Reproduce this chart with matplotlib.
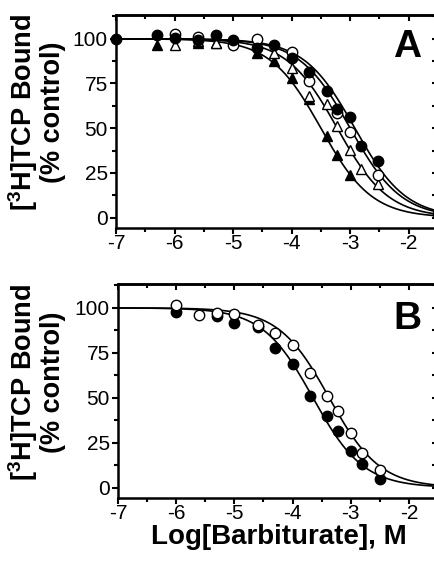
import numpy as np
import matplotlib
matplotlib.use('Agg')
from matplotlib import pyplot as plt
from matplotlib.ticker import MultipleLocator

plt.rcParams['font.family'] = ['Liberation Sans', 'DejaVu Sans']
plt.rcParams['mathtext.fontset'] = 'custom'
plt.rcParams['mathtext.bf'] = 'Liberation Sans:bold'
plt.rcParams['mathtext.rm'] = 'Liberation Sans:bold'

# panel A data (log M, % control)
a_fc_x = [-7.0, -6.3, -6.0, -5.6, -5.3, -5.0, -4.6, -4.3, -4.0, -3.7, -3.4, -3.22, -3.0, -2.82, -2.52, -1.5]
a_fc_y = [100, 102, 100.5, 99.5, 102, 99.3, 95, 96.3, 89.4, 81.4, 70.8, 60.5, 56.4, 40, 31.8, 1.9]
a_oc_x = [-6.0, -5.6, -5.0, -4.6, -4.0, -3.7, -3.22, -3.0, -2.52]
a_oc_y = [102.4, 101, 96.3, 100, 92.5, 76.4, 58.7, 48, 23.8]
a_ot_x = [-6.0, -5.6, -5.3, -4.6, -4.3, -4.0, -3.7, -3.4, -3.22, -3.0, -2.82, -2.52]
a_ot_y = [96.3, 99, 97.8, 97.4, 92.2, 83.8, 68, 63.7, 51.2, 37.8, 27, 18.6]
a_ft_x = [-6.3, -5.6, -5.3, -4.6, -4.3, -4.0, -3.7, -3.4, -3.22, -3.0]
a_ft_y = [96.3, 97.8, 97.8, 91.8, 87.5, 78.2, 66.1, 45.6, 34.8, 23.6]

# panel B data
b_oc_x = [-6.0, -5.6, -5.3, -5.0, -4.6, -4.3, -4.0, -3.7, -3.4, -3.22, -3.0, -2.8, -2.5]
b_oc_y = [101.5, 95.9, 97.2, 96.8, 90.3, 86.2, 79.5, 63.7, 51.2, 42.5, 30.4, 19, 9.9]
b_fc_x = [-6.0, -5.3, -5.0, -4.6, -4.3, -4.0, -3.7, -3.4, -3.22, -3.0, -2.8, -2.5]
b_fc_y = [97.8, 95.3, 91.6, 89.5, 77.8, 68.9, 50.8, 39.7, 31.3, 20.1, 13, 4.5]

# fitted curve parameters (logIC50, Hill slope)
a_fits = [(-2.92, 1.0), (-3.0, 1.0), (-3.22, 1.0), (-3.5, 1.0)]
b_fits = [(-3.37, 1.0), (-3.65, 1.0)]


def sigmoid(x, ic50, h):
    return 100.0 / (1.0 + 10 ** ((x - ic50) * h))


fig = plt.figure(figsize=(4.35, 5.63), dpi=100)
axA = fig.add_axes([116 / 435, 1 - 228 / 563, 322 / 435, 213 / 563])
axB = fig.add_axes([118 / 435, 1 - 498 / 563, 320 / 435, 214 / 563])

xs = np.linspace(-7, -1.5, 300)
mk = dict(ms=7.5, mec='black', mew=1.0, ls='none', zorder=3, clip_on=False)

for ic, h in a_fits:
    axA.plot(xs, sigmoid(xs, ic, h), color='black', lw=1.2)
axA.plot(a_ft_x, a_ft_y, '^', mfc='black', **mk)
axA.plot(a_ot_x, a_ot_y, '^', mfc='white', **mk)
axA.plot(a_oc_x, a_oc_y, 'o', mfc='white', **mk)
axA.plot(a_fc_x, a_fc_y, 'o', mfc='black', **mk)

for ic, h in b_fits:
    axB.plot(xs, sigmoid(xs, ic, h), color='black', lw=1.2)
axB.plot(b_fc_x, b_fc_y, 'o', mfc='black', **mk)
axB.plot(b_oc_x, b_oc_y, 'o', mfc='white', **mk)

for ax, letter, ly in [(axA, 'A', 95.5), (axB, 'B', 93.7)]:
    ax.set_xlim(-7, -1.5)
    ax.set_ylim(-5.8, 113.3)
    ax.xaxis.set_major_locator(MultipleLocator(1))
    ax.xaxis.set_minor_locator(MultipleLocator(0.5))
    ax.yaxis.set_major_locator(MultipleLocator(25))
    ax.yaxis.set_minor_locator(MultipleLocator(12.5))
    ax.set_xticks([-7, -6, -5, -4, -3, -2])
    ax.set_xticklabels(['-7', '-6', '-5', '-4', '-3', '-2'])
    ax.tick_params(which='both', direction='out', width=1.5, labelsize=15, pad=2)
    ax.tick_params(axis='x', which='both', pad=0.5)
    ax.tick_params(which='major', length=4)
    ax.tick_params(which='minor', length=3)
    for s in ax.spines.values():
        s.set_linewidth(1.8)
    ax.text(-2.02, ly, letter, fontsize=28, fontweight='bold', ha='center', va='center')
    # inward ticks on top and right
    top = ax.secondary_xaxis('top')
    top.set_xticks([-7, -6, -5, -4, -3, -2])
    top.xaxis.set_minor_locator(MultipleLocator(0.5))
    top.tick_params(which='both', direction='in', width=1.5, labeltop=False)
    top.tick_params(which='major', length=4)
    top.tick_params(which='minor', length=3)
    right = ax.secondary_yaxis('right')
    right.yaxis.set_major_locator(MultipleLocator(25))
    right.yaxis.set_minor_locator(MultipleLocator(12.5))
    right.tick_params(which='both', direction='in', width=1.5, labelright=False)
    right.tick_params(which='major', length=4)
    right.tick_params(which='minor', length=4)
    for s in list(top.spines.values()) + list(right.spines.values()):
        s.set_linewidth(1.8)

ylab = '[$\\mathbf{^3}$H]TCP Bound\n(% control)'
fig.text(36 / 435, 1 - 112 / 563, ylab, rotation=90, fontsize=19.5, fontweight='bold',
         ha='center', va='center', multialignment='center', linespacing=1.0)
fig.text(36 / 435, 1 - 382 / 563, ylab, rotation=90, fontsize=19.5, fontweight='bold',
         ha='center', va='center', multialignment='center', linespacing=1.0)
fig.text(279 / 435, 1 - 544 / 563, 'Log[Barbiturate], M', fontsize=20, fontweight='bold',
         ha='center', va='baseline')

fig.savefig('out.png', dpi=100)
